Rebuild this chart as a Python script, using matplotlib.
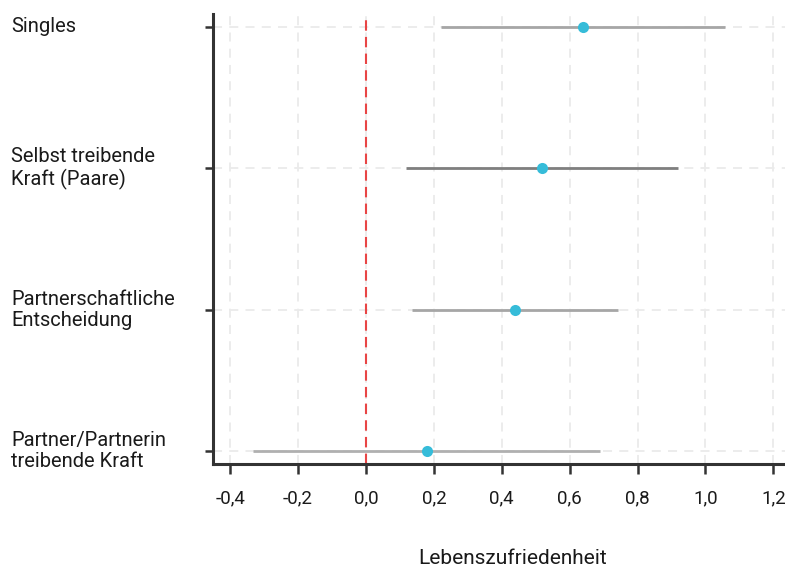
import matplotlib
matplotlib.use("Agg")
import matplotlib.pyplot as plt
import matplotlib.transforms as mtransforms
import numpy as np

plt.rcParams['font.family'] = ['Roboto', 'DejaVu Sans']

categories = ["Singles", "Selbst treibende\nKraft (Paare)", "Partnerschaftliche\nEntscheidung",
              "Partner/Partnerin\ntreibende Kraft"]
means = [0.639, 0.519, 0.439, 0.179]
lower = [0.221, 0.118, 0.135, -0.332]
upper = [1.057, 0.918, 0.742, 0.690]
line_colors = ["#a6a6a6", "#7f7f7f", "#a6a6a6", "#b0b0b0"]
xticks = [-0.4, -0.2, 0.0, 0.2, 0.4, 0.6, 0.8, 1.0, 1.2]
xticklabels = ["-0,4", "-0,2", "0,0", "0,2", "0,4", "0,6", "0,8", "1,0", "1,2"]

fig = plt.figure(figsize=(7.85, 5.67), dpi=100)
ax = fig.add_axes([213/785, 1 - 464/567, 572/785, 450/567])

ypos = np.arange(len(categories))[::-1] + 1

ax.grid(True, color="#ebebeb", linestyle=(0, (5, 4)), linewidth=1.3, zorder=0)
ax.set_axisbelow(True)

for y, lo, hi, c in zip(ypos, lower, upper, line_colors):
    ax.plot([lo, hi], [y, y], color=c, linewidth=2, solid_capstyle='butt', zorder=2)
ax.plot(means, ypos, 'o', color="#36bcd9", markersize=8, zorder=3, markeredgewidth=0)

ax.axvline(0, color="#e84545", linestyle=(0, (5, 3)), linewidth=1.5, zorder=2.5)

ax.set_xlim(-0.4507, 1.2342)
ax.set_ylim(0.91, 4.09)
ax.set_xticks(xticks)
ax.set_xticklabels(xticklabels, fontsize=13.5, color="#1a1a1a")
ax.set_yticks(ypos)
ax.set_yticklabels(categories, fontsize=14.5, ha='left', va='center', color="#1a1a1a",
                   linespacing=1.15)

# small vertical nudges of the category labels (pixels, positive = down)
nudges = [2, 7, -5, -2]
for lab, dy in zip(ax.get_yticklabels(), nudges):
    lab.set_transform(lab.get_transform() +
                      mtransforms.ScaledTranslation(0, -dy / 100, fig.dpi_scale_trans))

for s in ["top", "right"]:
    ax.spines[s].set_visible(False)
for s in ["left", "bottom"]:
    ax.spines[s].set_color("#333333")
    ax.spines[s].set_linewidth(2.2)

ax.tick_params(axis='x', length=7, width=1.8, color="#333333", pad=11)
ax.tick_params(axis='y', length=6, width=1.8, color="#333333", pad=139.5)

ax.set_xlabel("Lebenszufriedenheit", fontsize=15, color="#1a1a1a")
ax.xaxis.set_label_coords(0.524, -0.19)

fig.savefig("out.png", dpi=100)
